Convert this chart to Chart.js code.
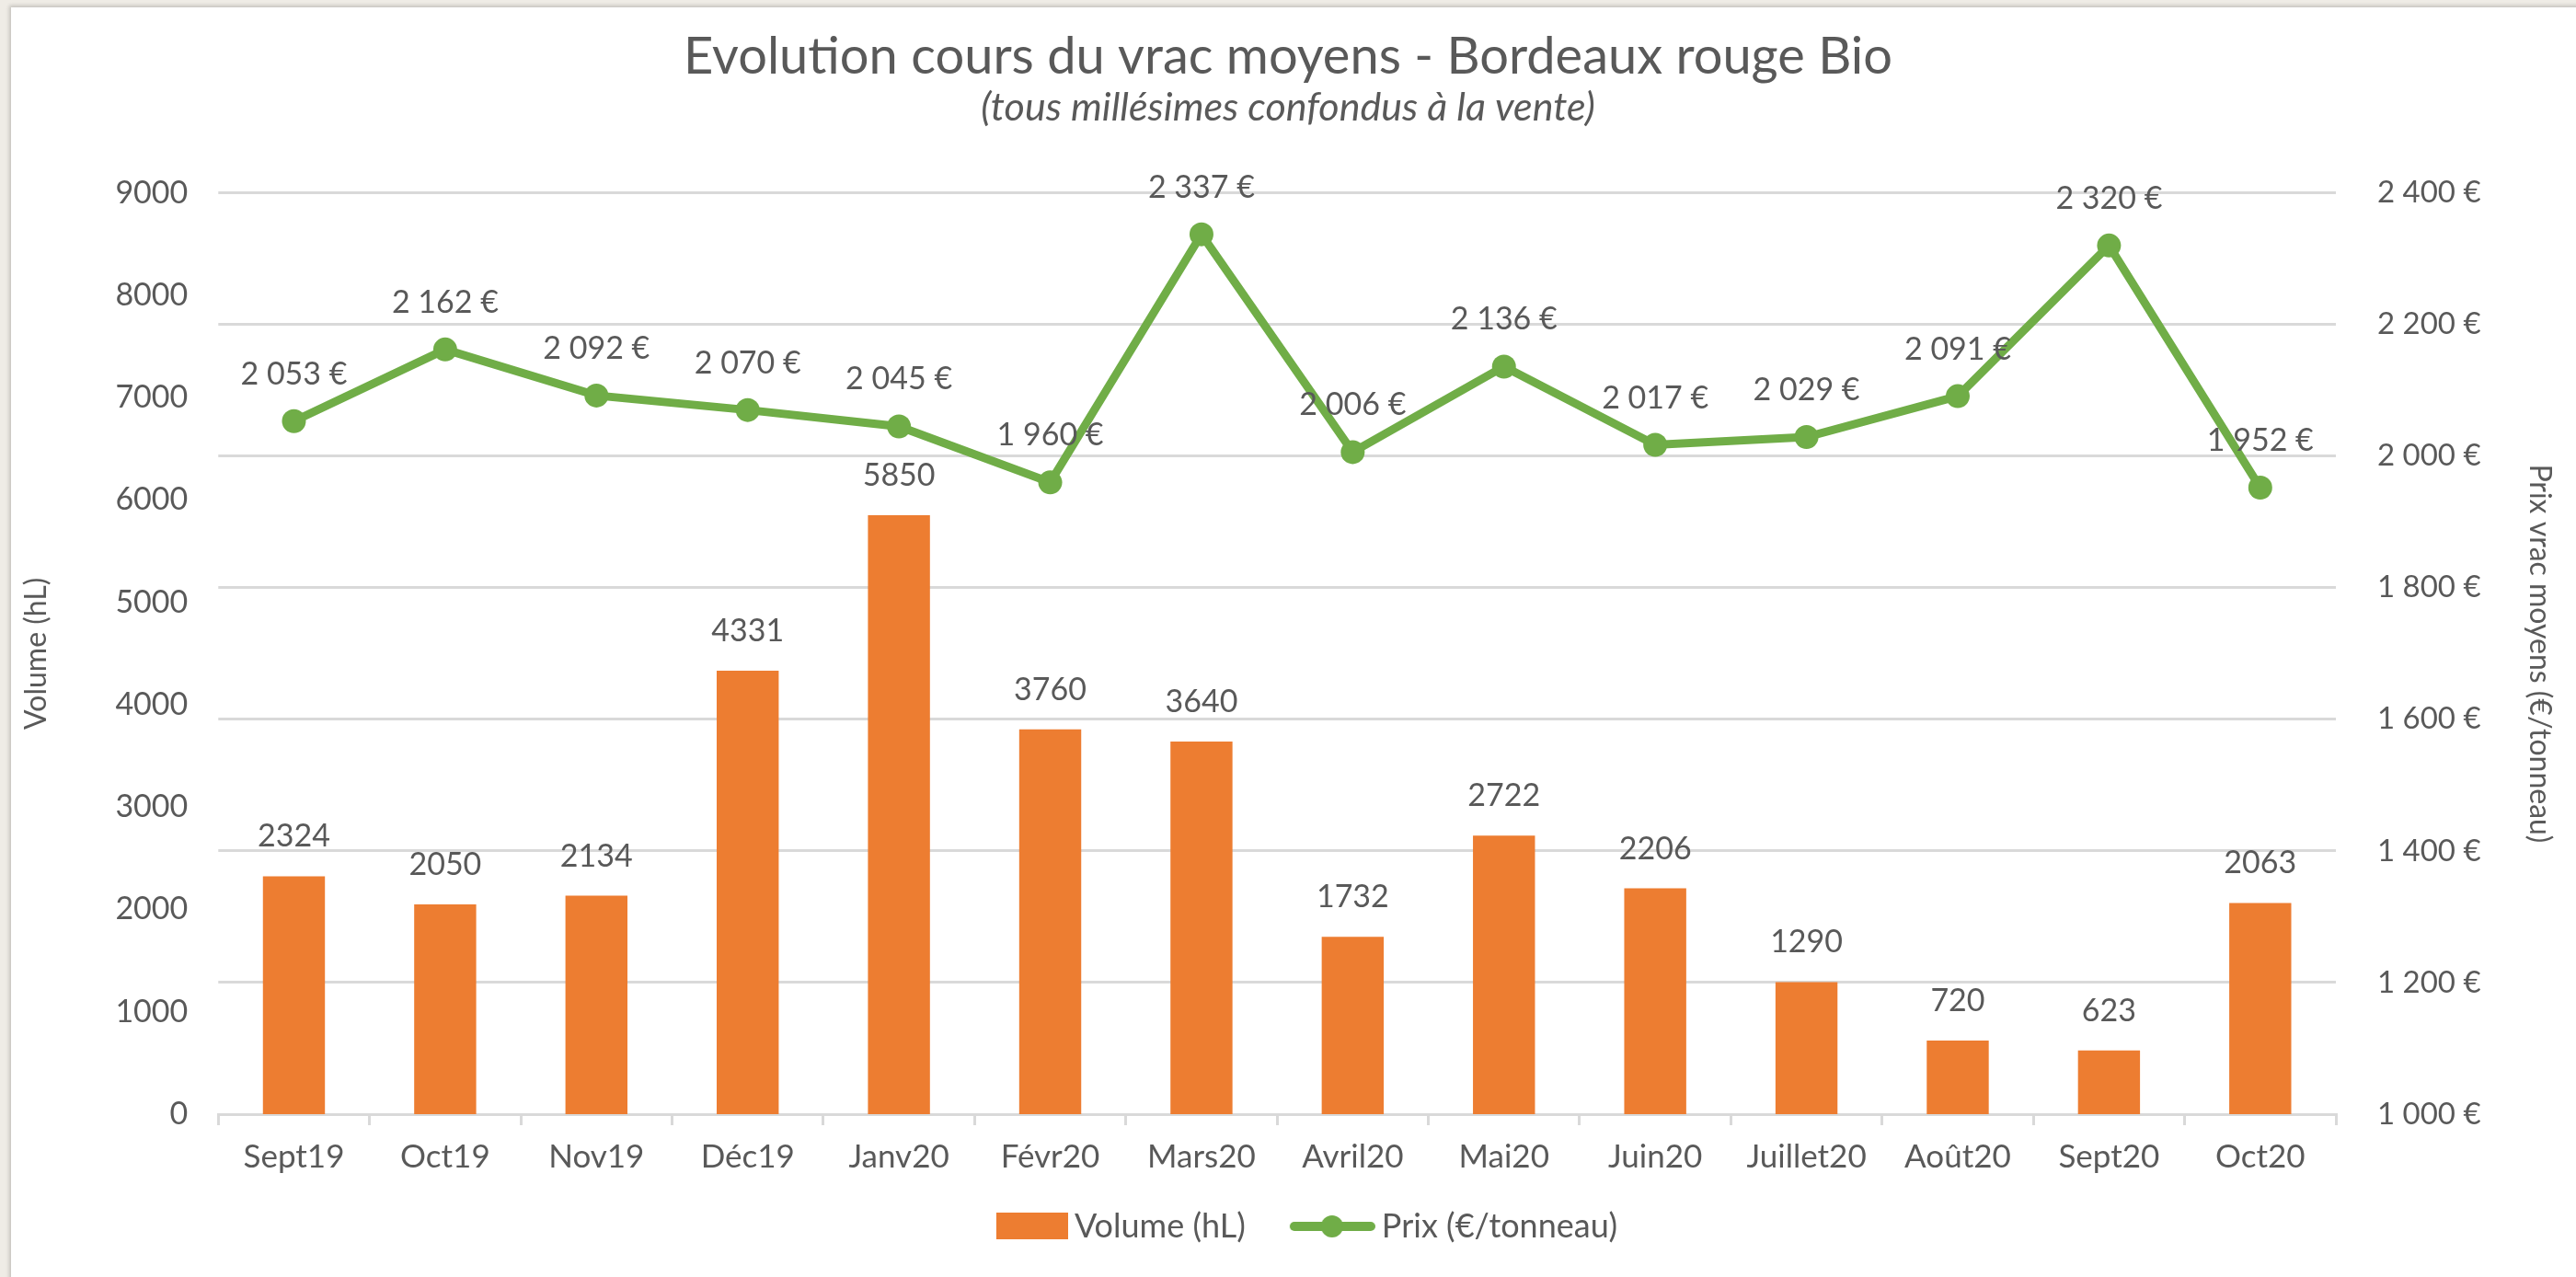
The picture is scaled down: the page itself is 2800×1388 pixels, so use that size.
<!DOCTYPE html>
<html lang="fr">
<head>
<meta charset="utf-8">
<title>Evolution cours du vrac moyens - Bordeaux rouge Bio</title>
<script src="https://cdn.jsdelivr.net/npm/chart.js@4.4.1/dist/chart.umd.min.js"></script>
<style>
	html, body {
		margin: 0;
		padding: 0;
		background: #efece6;
		overflow: hidden;
	}
	#panel {
		position: absolute;
		left: 12px;
		top: 8px;
		width: 2800px;
		height: 1400px;
		background: #ffffff;
		box-shadow: -2px -2px 4px rgba(0, 0, 0, 0.18);
	}
	#chart {
		position: absolute;
		left: 0;
		top: 0;
	}
</style>
</head>
<body>
<div id="panel"></div>
<canvas id="chart" width="2800" height="1388"></canvas>
<script>
'use strict';

const months = ['Sept19', 'Oct19', 'Nov19', 'Déc19', 'Janv20', 'Févr20', 'Mars20',
	'Avril20', 'Mai20', 'Juin20', 'Juillet20', 'Août20', 'Sept20', 'Oct20'];
const volumes = [2324, 2050, 2134, 4331, 5850, 3760, 3640, 1732, 2722, 2206, 1290, 720, 623, 2063];
const prices = [2053, 2162, 2092, 2070, 2045, 1960, 2337, 2006, 2136, 2017, 2029, 2091, 2320, 1952];
const volumeTicks = [0, 9000, 1000];
const priceTicks = [1000, 2400, 200];

const ORANGE = '#ed7d31';
const GREEN = '#70ad47';
const TEXT = '#595959';
const GRID = '#d9d9d9';
const FONT = 'Lato, "Open Sans", sans-serif';

/**
 * 2053 -> "2 053 €"
 */
function euro(value) {
	return String(value).replace(/\B(?=(\d{3})+(?!\d))/g, ' ') + ' €';
}

// legend symbols: the visible part sits at the right end of the picture,
// so that it stays close to its text
function legendBar() {
	let c = document.createElement('canvas');
	c.width = 130;
	c.height = 30;
	let ctx = c.getContext('2d');
	ctx.fillStyle = ORANGE;
	ctx.fillRect(52, 0, 78, 29);
	return c;
}

function legendLine() {
	let c = document.createElement('canvas');
	c.width = 130;
	c.height = 30;
	let ctx = c.getContext('2d');
	ctx.strokeStyle = GREEN;
	ctx.lineWidth = 10;
	ctx.lineCap = 'round';
	ctx.beginPath();
	ctx.moveTo(42, 15);
	ctx.lineTo(125, 15);
	ctx.stroke();
	ctx.fillStyle = GREEN;
	ctx.beginPath();
	ctx.arc(83, 15, 12, 0, Math.PI * 2);
	ctx.fill();
	return c;
}

// values written above bars and points
const valueLabels = {
	id: 'valueLabels',
	afterDatasetsDraw(chart) {
		let ctx = chart.ctx;
		ctx.save();
		ctx.font = '34px ' + FONT;
		ctx.fillStyle = TEXT;
		ctx.textAlign = 'center';
		ctx.textBaseline = 'middle';
		chart.getDatasetMeta(0).data.forEach(function (bar, i) {
			ctx.fillText(String(volumes[i]), bar.x, bar.y - 43);
		});
		chart.getDatasetMeta(1).data.forEach(function (pt, i) {
			ctx.fillText(euro(prices[i]), pt.x, pt.y - 51);
		});
		ctx.restore();
	}
};

const symbols = [legendBar(), legendLine()];

let chart = new Chart(document.getElementById('chart'), {
	type: 'bar',
	data: {
		labels: months,
		datasets: [{
			type: 'bar',
			label: 'Volume (hL)',
			data: volumes,
			backgroundColor: ORANGE,
			yAxisID: 'yVol',
			barPercentage: 0.41,
			categoryPercentage: 1,
			order: 2
		}, {
			type: 'line',
			label: 'Prix (€/tonneau)',
			data: prices,
			borderColor: GREEN,
			backgroundColor: GREEN,
			borderWidth: 9,
			pointRadius: 13,
			pointHoverRadius: 13,
			pointBackgroundColor: GREEN,
			pointBorderWidth: 0,
			tension: 0,
			yAxisID: 'yPrix',
			order: 1
		}]
	},
	options: {
		responsive: false,
		animation: false,
		devicePixelRatio: 1,
		layout: {
			padding: { left: 20, right: 20, top: 0, bottom: 27 }
		},
		plugins: {
			title: {
				display: true,
				text: 'Evolution cours du vrac moyens - Bordeaux rouge Bio',
				color: TEXT,
				font: { family: FONT, size: 56, weight: 'normal', lineHeight: 1.1 },
				padding: { top: 31, bottom: 0 }
			},
			subtitle: {
				display: true,
				text: '(tous millésimes confondus à la vente)',
				color: TEXT,
				font: { family: FONT, size: 43, style: 'italic', weight: 'normal', lineHeight: 1 },
				padding: { top: 3, bottom: 71 }
			},
			legend: {
				position: 'bottom',
				labels: {
					color: TEXT,
					font: { family: FONT, size: 36 },
					usePointStyle: true,
					pointStyleWidth: 108,
					padding: 22,
					generateLabels: function (chart) {
						return chart.data.datasets.map(function (ds, i) {
							return {
								text: ds.label,
								pointStyle: symbols[i],
								fontColor: TEXT,
								lineWidth: 0,
								datasetIndex: i
							};
						});
					}
				}
			},
			tooltip: { enabled: false }
		},
		scales: {
			x: {
				offset: true,
				grid: {
					display: true,
					offset: true,
					drawOnChartArea: false,
					drawTicks: true,
					tickLength: 12,
					color: GRID,
					lineWidth: 3
				},
				border: { display: true, color: GRID, width: 3 },
				ticks: {
					color: TEXT,
					font: { family: FONT, size: 35 },
					padding: 14,
					maxRotation: 0
				}
			},
			yVol: {
				position: 'left',
				min: volumeTicks[0],
				max: volumeTicks[1],
				ticks: {
					stepSize: volumeTicks[2],
					color: TEXT,
					font: { family: FONT, size: 34 },
					padding: 25,
					callback: function (v) { return String(v); }
				},
				grid: { display: false },
				border: { display: false },
				title: {
					display: true,
					text: 'Volume (hL)',
					color: TEXT,
					font: { family: FONT, size: 32 },
					padding: { top: 0, bottom: 42 }
				}
			},
			yPrix: {
				position: 'right',
				min: priceTicks[0],
				max: priceTicks[1],
				ticks: {
					stepSize: priceTicks[2],
					color: TEXT,
					font: { family: FONT, size: 33 },
					padding: 45,
					callback: function (v) { return euro(v); }
				},
				grid: { color: GRID, lineWidth: 3, drawTicks: false },
				border: { display: false },
				title: {
					display: true,
					text: 'Prix vrac moyens (€/tonneau)',
					color: TEXT,
					font: { family: FONT, size: 32 },
					padding: { top: 0, bottom: 0 }
				}
			}
		}
	},
	plugins: [valueLabels]
});
</script>
</body>
</html>
